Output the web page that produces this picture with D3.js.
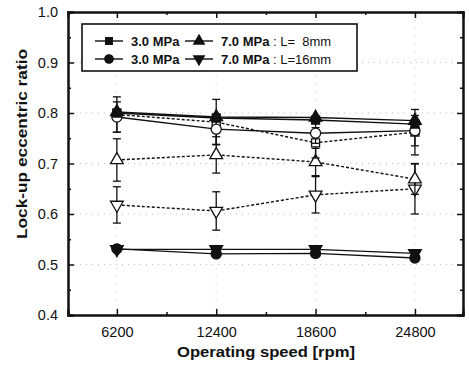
<!DOCTYPE html>
<html>
  <head>
    <meta charset="UTF-8">
    <title>Lock-up eccentric ratio vs operating speed</title>
    <style>
      body { margin: 0; background: #fff; }
      text { font-family: "Liberation Sans", Arial, sans-serif; }
    </style>
  </head>
  <body>
    <svg></svg>
    <script src="https://d3js.org/d3.v7.min.js"></script>
    <script>

// operating speeds [rpm]
var speeds = [6200, 12400, 18600, 24800];
var xTicks = [6200, 12400, 18600, 24800];
var yTicks = [0.4, 0.5, 0.6, 0.7, 0.8, 0.9, 1.0];

// legend series (filled markers)
var sq30 = [0.800, 0.790, 0.786, 0.778];    // 3.0 MPa, L=8mm
var tri70 = [0.802, 0.792, 0.791, 0.785];   // 7.0 MPa, L=8mm
var circ30 = [0.531, 0.521, 0.522, 0.513];  // 3.0 MPa, L=16mm
var dtri70 = [0.530, 0.530, 0.530, 0.522];  // 7.0 MPa, L=16mm

// open markers (no legend entry)
var openCirc = [0.792, 0.768, 0.760, 0.765];
var openSq = [0.797, 0.782, 0.741, 0.762];
var openTri = [0.707, 0.717, 0.703, 0.669];
var openDtri = [0.618, 0.606, 0.638, 0.650];
var errCirc = [0.030, 0.030, 0.020, 0.030];
var errSq = [0.035, 0.045, 0.030, 0.045];
var errTri = [0.042, 0.036, 0.027, 0.030];
var errDtri = [0.036, 0.038, 0.036, 0.050];

var config = {
  "width": 469,
  "height": 368,
  "margin": {"top": 12, "right": 6, "bottom": 53, "left": 68}
};

var svg = d3.select("svg")
  .attr("width", config.width)
  .attr("height", config.height);

var margin = config.margin,
  width = config.width - margin.left - margin.right,
  height = config.height - margin.top - margin.bottom;

var g = svg.append("g")
  .attr("transform", `translate(${margin.left},${margin.top})`);

var x = d3.scaleLinear().domain([3150, 27800]).range([0, width]);
var y = d3.scaleLinear().domain([0.4, 1.0]).range([height, 0]);

// dotted grid
g.selectAll(".hgrid")
  .data(yTicks.filter(function(d){ return d > 0.45 && d < 0.95; }))
  .enter().append("line")
    .attr("x1", 0).attr("x2", width)
    .attr("y1", function(d){ return y(d); })
    .attr("y2", function(d){ return y(d); })
    .attr("stroke", "#aaa")
    .attr("stroke-width", 0.8)
    .attr("stroke-dasharray", "1,5");
g.selectAll(".vgrid")
  .data(xTicks)
  .enter().append("line")
    .attr("x1", function(d){ return x(d); })
    .attr("x2", function(d){ return x(d); })
    .attr("y1", 0).attr("y2", height)
    .attr("stroke", "#bbb")
    .attr("stroke-width", 0.8)
    .attr("stroke-dasharray", "1,7");

// axes (inward ticks)
var yMinor = d3.range(0.45, 1.0, 0.1);
var xMinor = [9300, 15500, 21700];

g.append("g").call(d3.axisLeft(y).tickValues(yTicks).tickSize(-6).tickPadding(10).tickFormat(d3.format(".1f")))
  .call(function(a){ a.selectAll("text").attr("font-size", 14.5).attr("fill", "#111"); });
g.append("g").call(d3.axisLeft(y).tickValues(yMinor).tickSize(-3).tickFormat(""));
g.append("g").attr("transform", `translate(${width},0)`)
  .call(d3.axisRight(y).tickValues(yTicks).tickSize(-6).tickFormat(""));
g.append("g").attr("transform", `translate(${width},0)`)
  .call(d3.axisRight(y).tickValues(yMinor).tickSize(-3).tickFormat(""));
g.append("g").attr("transform", `translate(0,${height})`)
  .call(d3.axisBottom(x).tickValues(xTicks).tickSize(-6).tickPadding(12).tickFormat(d3.format("d")))
  .call(function(a){ a.selectAll("text").attr("font-size", 14.5).attr("fill", "#111"); });
g.append("g").attr("transform", `translate(0,${height})`)
  .call(d3.axisBottom(x).tickValues(xMinor).tickSize(-3).tickFormat(""));
g.append("g").call(d3.axisTop(x).tickValues(xTicks).tickSize(-6).tickFormat(""));
g.append("g").call(d3.axisTop(x).tickValues(xMinor).tickSize(-3).tickFormat(""));

g.selectAll(".domain").attr("stroke", "#111").attr("stroke-width", 2);
g.selectAll(".tick line").attr("stroke", "#111").attr("stroke-width", 1.5);

// series
var series = [
  {"vals": openDtri, "err": errDtri, "sym": "dtri", "fill": "#fff", "dash": "3,2"},
  {"vals": openTri, "err": errTri, "sym": "tri", "fill": "#fff", "dash": "3,2"},
  {"vals": openSq, "err": errSq, "sym": "sq", "fill": "#fff", "dash": "3,2"},
  {"vals": openCirc, "err": errCirc, "sym": "circ", "fill": "#fff", "dash": null},
  {"vals": circ30, "err": null, "sym": "circ", "fill": "#111", "dash": null},
  {"vals": dtri70, "err": null, "sym": "dtri", "fill": "#111", "dash": null},
  {"vals": sq30, "err": null, "sym": "sq", "fill": "#111", "dash": null},
  {"vals": tri70, "err": null, "sym": "tri", "fill": "#111", "dash": null}
];

var symbols = {
  "sq": d3.symbol().type(d3.symbolSquare).size(64),
  "circ": d3.symbol().type(d3.symbolCircle).size(80),
  "tri": d3.symbol().type(d3.symbolTriangle).size(70),
  "dtri": d3.symbol().type(d3.symbolTriangle).size(70)
};

function drawSymbol(sel, sym, fill, cx, cy, scale) {
  sel.append("path")
    .attr("d", symbols[sym]())
    .attr("transform", `translate(${cx},${cy}) scale(${scale || 1})` + (sym == "dtri" ? " rotate(180)" : ""))
    .attr("fill", fill)
    .attr("stroke", "#111")
    .attr("stroke-width", 1.3);
}

var line = d3.line()
  .x(function(d){ return x(d[0]); })
  .y(function(d){ return y(d[1]); });

series.forEach(function(s){
  var pts = speeds.map(function(v, i){ return [v, s.vals[i]]; });
  // error bars
  if (s.err) {
    pts.forEach(function(p, i){
      var e = s.err[i];
      var cx = x(p[0]);
      g.append("line")
        .attr("x1", cx).attr("x2", cx)
        .attr("y1", y(p[1] + e)).attr("y2", y(p[1] - e))
        .attr("stroke", "#111").attr("stroke-width", 1.3);
      [p[1] + e, p[1] - e].forEach(function(v){
        g.append("line")
          .attr("x1", cx - 4).attr("x2", cx + 4)
          .attr("y1", y(v)).attr("y2", y(v))
          .attr("stroke", "#111").attr("stroke-width", 1.3);
      });
    });
  }
  g.append("path")
    .attr("d", line(pts))
    .attr("fill", "none")
    .attr("stroke", "#111")
    .attr("stroke-width", 1.4)
    .attr("stroke-dasharray", s.dash);
  pts.forEach(function(p){
    drawSymbol(g, s.sym, s.fill, x(p[0]), y(p[1]));
  });
});

// legend
var legend = svg.append("g");
legend.append("rect")
  .attr("x", 82).attr("y", 24).attr("width", 275).attr("height", 47)
  .attr("fill", "#fff").attr("stroke", "#111").attr("stroke-width", 1.6);

var legRows = [
  {"y": 41, "a": "sq", "b": "tri", "la": "3.0 MPa", "lb": "7.0 MPa", "tail": " : L=  8mm"},
  {"y": 59, "a": "circ", "b": "dtri", "la": "3.0 MPa", "lb": "7.0 MPa", "tail": " : L=16mm"}
];
legRows.forEach(function(r){
  [[95, r.a, r.la], [185, r.b, r.lb]].forEach(function(e, k){
    legend.append("line")
      .attr("x1", e[0]).attr("x2", e[0] + 28)
      .attr("y1", r.y).attr("y2", r.y)
      .attr("stroke", "#111").attr("stroke-width", 1.4);
    drawSymbol(legend, e[1], "#111", e[0] + 14, r.y, 0.85);
    var t = legend.append("text")
      .attr("x", e[0] + 36).attr("y", r.y + 5)
      .attr("font-size", 13).attr("fill", "#111");
    t.append("tspan").attr("font-weight", "bold").text(e[2]);
    if (k == 1) t.append("tspan").style("white-space", "pre").text(r.tail);
  });
});

// axis titles (the scan is stretched a little horizontally)
svg.append("text")
  .attr("x", 266).attr("y", 357)
  .attr("text-anchor", "middle")
  .attr("font-size", 14.5).attr("font-weight", "bold").attr("fill", "#111")
  .attr("textLength", 178).attr("lengthAdjust", "spacingAndGlyphs")
  .text("Operating speed [rpm]");
svg.append("text")
  .attr("transform", "translate(27,144) rotate(-90)")
  .attr("text-anchor", "middle")
  .attr("font-size", 14.5).attr("font-weight", "bold").attr("fill", "#111")
  .attr("textLength", 190).attr("lengthAdjust", "spacingAndGlyphs")
  .text("Lock-up eccentric ratio");

    </script>
  </body>
</html>
